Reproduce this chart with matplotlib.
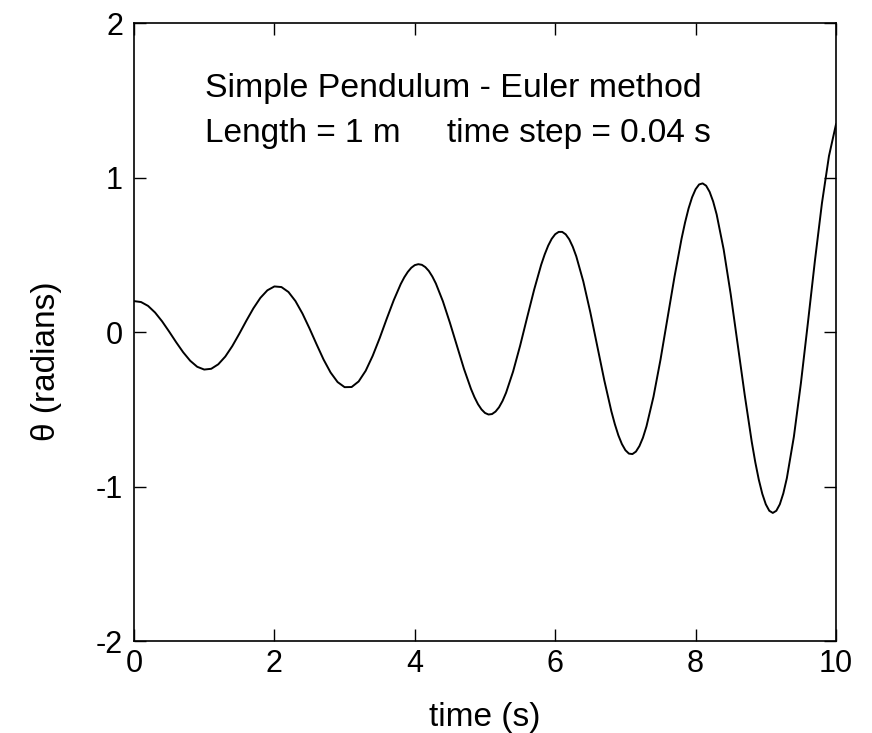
import numpy as np
import matplotlib
matplotlib.use("Agg")
import matplotlib.pyplot as plt

plt.rcParams['font.family'] = ['Liberation Sans', 'DejaVu Sans']
plt.rcParams['axes.unicode_minus'] = False

# theta every 0.1 s, from t = 0 to t = 10
time_s = np.linspace(0, 10, 101)
theta = [
    0.200, 0.194, 0.169, 0.126, 0.069, 0.003, -0.066, -0.131, -0.186, -0.225,
    -0.243, -0.238, -0.209, -0.159, -0.091, -0.011, 0.073, 0.153, 0.221, 0.270,
    0.295, 0.291, 0.259, 0.200, 0.119, 0.023, -0.079, -0.178, -0.262, -0.324,
    -0.357, -0.356, -0.320, -0.251, -0.154, -0.039, 0.086, 0.206, 0.311, 0.389,
    0.433, 0.435, 0.395, 0.314, 0.199, 0.060, -0.090, -0.238, -0.368, -0.467,
    -0.524, -0.531, -0.487, -0.393, -0.256, -0.089, 0.094, 0.274, 0.435, 0.559,
    0.633, 0.648, 0.600, 0.490, 0.328, 0.128, -0.094, -0.314, -0.513, -0.669,
    -0.765, -0.790, -0.738, -0.611, -0.419, -0.179, 0.090, 0.359, 0.604, 0.800,
    0.924, 0.962, 0.907, 0.761, 0.534, 0.245, -0.079, -0.408, -0.711, -0.955,
    -1.115, -1.171, -1.115, -0.946, -0.678, -0.332, 0.060, 0.462, 0.834, 1.139,
    1.344,
]

# extra readings around the bigger peaks and troughs
extra_t = [3.85, 3.95, 4.05, 4.15, 4.25,
           4.85, 4.95, 5.05, 5.15, 5.25,
           5.85, 5.95, 6.05, 6.15, 6.25,
           6.85, 6.95, 7.05, 7.15, 7.25,
           7.85, 7.95, 8.05, 8.15, 8.25,
           8.85, 8.95, 9.05, 9.15, 9.25]
extra_theta = [0.354, 0.416, 0.439, 0.420, 0.359,
               -0.422, -0.501, -0.534, -0.515, -0.446,
               0.502, 0.603, 0.648, 0.632, 0.552,
               -0.597, -0.725, -0.787, -0.774, -0.684,
               0.709, 0.872, 0.955, 0.947, 0.845,
               -0.842, -1.047, -1.157, -1.157, -1.044]

t_all = np.concatenate([time_s, extra_t])
th_all = np.concatenate([theta, extra_theta])
order = np.argsort(t_all)
t_all = t_all[order]
th_all = th_all[order]

title_lines = ["Simple Pendulum - Euler method",
               "Length = 1 m     time step = 0.04 s"]

fig = plt.figure(figsize=(8.72, 7.33), dpi=100)
ax = fig.add_axes([0.1537, 0.1255, 0.805, 0.8431])

ax.plot(t_all, th_all, color='black', linewidth=1.4)

ax.set_xlim(0, 10)
ax.set_ylim(-2, 2)
ax.set_xticks([0, 2, 4, 6, 8, 10])
ax.set_yticks([-2, -1, 0, 1, 2])
ax.tick_params(direction='in', top=True, right=True, length=8.5, width=1,
               labelsize=22)
ax.tick_params(axis='x', pad=6)
ax.tick_params(axis='y', pad=8)
for sp in ax.spines.values():
    sp.set_linewidth(1.2)

ax.set_xlabel("time (s)", fontsize=24)
ax.set_ylabel("θ (radians)", fontsize=24)
ax.xaxis.set_label_coords(0.5, -0.099)
ax.yaxis.set_label_coords(-0.103, 0.453)

ax.text(1.01, 1.523, title_lines[0], fontsize=24.4, ha='left', va='baseline')
ax.text(1.01, 1.228, title_lines[1], fontsize=24, ha='left', va='baseline')

fig.savefig("out.png", dpi=100)
